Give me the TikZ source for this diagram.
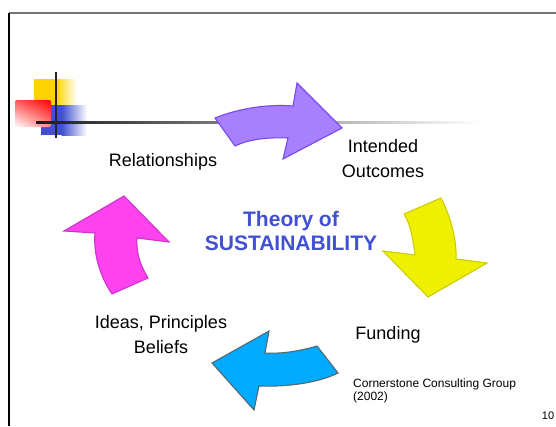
\documentclass[tikz,border=0pt]{standalone}
\usepackage{fontspec}
\setmainfont{Liberation Sans}
\usepackage{xcolor}
\usepackage{tikz}
\usetikzlibrary{shadings}
\definecolor{arrPurple}{RGB}{168,128,255}
\definecolor{edgePurple}{RGB}{118,72,240}
\definecolor{arrYellow}{RGB}{238,240,0}
\definecolor{edgeYellow}{RGB}{204,204,0}
\definecolor{arrPink}{RGB}{255,66,240}
\definecolor{edgePink}{RGB}{204,52,204}
\definecolor{arrBlue}{RGB}{0,170,255}
\definecolor{edgeBlue}{RGB}{84,104,114}
\definecolor{titleBlue}{RGB}{66,80,212}
\definecolor{boxYellow}{RGB}{255,210,0}
\definecolor{boxBlue}{RGB}{64,80,208}

\begin{document}
\begin{tikzpicture}[x=1pt,y=-1pt, lbl/.style={font=\fontsize{18}{25}\selectfont, inner sep=0, align=center}]
\useasboundingbox (0,0) rectangle (556,426);

% slide frame
\draw [line width=1.6pt, black!55] (9,13) -- (556,13);
\draw [line width=1.4pt, black] (9,13) -- (9,426);

% corner ornament
\path[fill=boxYellow] (34,79) rectangle (56,105);
\shade [left color=boxYellow, right color=white] (55.5,79) rectangle (77,105);
\path[fill=boxBlue] (41,105) rectangle (62,135);
\shade [left color=boxBlue, right color=white] (61.5,105) rectangle (87,135);
\shade [rounded corners=2pt, upper right=red, upper left=red!65!white, lower right=red!45!white, lower left=white] (15,100) rectangle (51,127);
\shade [left color=black!90, right color=white] (36,121) rectangle (480,123.2);
\draw [line width=1.8pt, black!85] (56,72) -- (56,138);

% the four curved arrows
\draw [line width=1.1pt, edgePurple, fill=arrPurple] (215,118) .. controls (240,108) and (268,104) .. (293,106) -- (297,83) -- (342,128) -- (283,159) -- (288,138) .. controls (265,137) and (247,140) .. (235,146) -- cycle;
\draw [line width=1.1pt, edgeYellow, fill=arrYellow] (404,214) -- (441,198) .. controls (450,215) and (457,240) .. (456,259) -- (487,263) -- (428,297) -- (383,251) -- (415,255) .. controls (413,240) and (411,225) .. (404,214);
\draw [line width=1.1pt, edgeBlue, fill=arrBlue] (317,346) -- (338,373) .. controls (318,383) and (287,387) .. (259,386) -- (254,410) -- (212,363) -- (269,331) -- (265,353) .. controls (282,354) and (300,351) .. (317,346);
\draw [line width=1.1pt, edgePink, fill=arrPink] (112,294) -- (148,278) .. controls (140,265) and (136,252) .. (137,238) -- (169,242) -- (124,196) -- (64,231) -- (95,233) .. controls (93,255) and (101,278) .. (112,294);

% labels
\node [lbl, anchor=base] (rel) at (163,166) {Relationships};
\node [lbl] (out) at (383,159) {Intended\\Outcomes};
\node [lbl, font=\fontsize{21}{24}\selectfont\bfseries, text=titleBlue] (theory) at (291,231) {Theory of\\SUSTAINABILITY};
\node [lbl] (ideas) at (161,335) {Ideas, Principles\\Beliefs};
\node [lbl, anchor=base] (fund) at (388,339) {Funding};
\node [font=\fontsize{12}{13}\selectfont, inner sep=0, align=left, anchor=north west] (cite) at (353,379) {Cornerstone Consulting Group\\(2002)};
\node [font=\fontsize{11}{13}\selectfont, inner sep=0] (pnum) at (548,416) {10};
\end{tikzpicture}
\end{document}
